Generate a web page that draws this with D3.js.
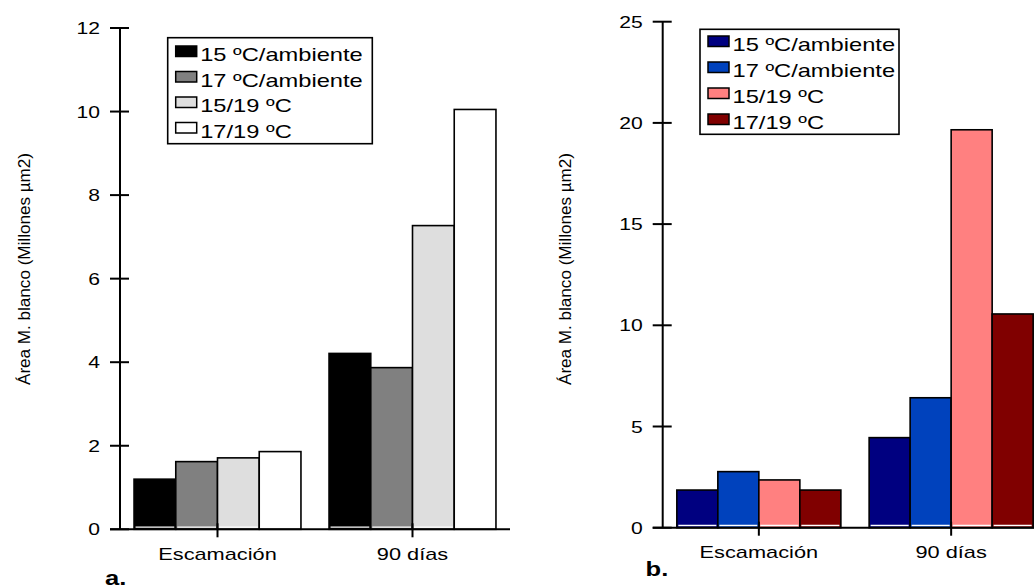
<!DOCTYPE html>
<html>
<head>
<meta charset="utf-8">
<script src="https://cdn.jsdelivr.net/npm/d3@7"></script>
<style>
  html, body { margin: 0; padding: 0; background: #fff; }
  svg { display: block; font-family: "Liberation Sans", Arial, sans-serif; }
</style>
</head>
<body>
<svg id="chart" width="1034" height="588"></svg>
<script>
// Categories and series
const categories = ["Escamación", "90 días"];
const seriesLabels = ["15 ºC/ambiente", "17 ºC/ambiente", "15/19 ºC", "17/19 ºC"];

// Panel a: area of white matter (millions µm2)
const aVal15Amb = [1.20, 4.21];
const aVal17Amb = [1.62, 3.87];
const aVal1519  = [1.71, 7.27];
const aVal1719  = [1.86, 10.05];
const aTicks = [0, 2, 4, 6, 8, 10, 12];
const aColors = ["#000000", "#808080", "#dedede", "#ffffff"];

// Panel b
const bVal15Amb = [1.86, 4.45];
const bVal17Amb = [2.77, 6.42];
const bVal1519  = [2.36, 19.66];
const bVal1719  = [1.86, 10.56];
const bTicks = [0, 5, 10, 15, 20, 25];
const bColors = ["#000080", "#0042bd", "#ff8080", "#800000"];

const yTitle = "Área M. blanco (Millones µm2)";
const SX = 1.28; // horizontal widening of the text

const svg = d3.select("#chart");

function stretchedText(g, x, y, txt, size, anchor, weight) {
  return g.append("text")
    .attr("transform", `translate(${x},${y}) scale(${SX},1)`)
    .attr("text-anchor", anchor || "start")
    .attr("font-size", size)
    .attr("font-weight", weight || "normal")
    .attr("fill", "#000")
    .text(txt);
}

function drawPanel(opt) {
  const g = svg.append("g");
  const series = opt.series;
  const y = d3.scaleLinear().domain([0, opt.yMax]).range([opt.y0, opt.yTop]);
  const x = d3.scaleBand().domain(categories)
    .range([opt.axisX, opt.axisX + 2 * opt.step])
    .paddingInner(opt.pad).paddingOuter(opt.pad / 2);
  const sub = d3.scaleBand().domain(d3.range(series.length))
    .range([0, x.bandwidth()]);

  // bars
  series.forEach((vals, si) => {
    g.selectAll(null).data(vals).enter().append("rect")
      .attr("x", (d, ci) => x(categories[ci]) + sub(si))
      .attr("y", d => y(d))
      .attr("width", sub.bandwidth())
      .attr("height", d => y(0) - y(d))
      .attr("fill", opt.colors[si])
      .attr("stroke", "#000")
      .attr("stroke-width", 1.6);
    // thin light strip along the base of each bar
    g.selectAll(null).data(vals).enter().append("line")
      .attr("x1", (d, ci) => x(categories[ci]) + sub(si) + 1.5)
      .attr("x2", (d, ci) => x(categories[ci]) + sub(si) + sub.bandwidth() - 1.5)
      .attr("y1", y(0) - 2.2).attr("y2", y(0) - 2.2)
      .attr("stroke", "#fff").attr("stroke-width", 1.4);
  });

  // y axis
  g.append("line")
    .attr("x1", opt.axisX).attr("x2", opt.axisX)
    .attr("y1", y(opt.yMax)).attr("y2", y(0))
    .attr("stroke", "#000").attr("stroke-width", 2);
  g.selectAll(null).data(opt.ticks).enter().append("line")
    .attr("x1", opt.axisX - 10).attr("x2", opt.axisX + 9)
    .attr("y1", d => y(d)).attr("y2", d => y(d))
    .attr("stroke", "#000").attr("stroke-width", 2);
  opt.ticks.forEach(t => {
    stretchedText(g, opt.axisX - 20, y(t) + 6, String(t), 16.5, "end");
  });

  // x axis
  g.append("line")
    .attr("x1", opt.axisX - 10).attr("x2", opt.xEnd)
    .attr("y1", y(0)).attr("y2", y(0))
    .attr("stroke", "#000").attr("stroke-width", 2);
  categories.forEach(c => {
    const cx = x(c) + x.bandwidth() / 2;
    g.append("line")
      .attr("x1", cx).attr("x2", cx)
      .attr("y1", y(0) - 6).attr("y2", y(0) + 8)
      .attr("stroke", "#000").attr("stroke-width", 2);
    stretchedText(g, cx, opt.xLabelY, c, 17, "middle");
  });

  // y title
  g.append("text")
    .attr("transform", `translate(${opt.titleX},${opt.titleY}) rotate(-90)`)
    .attr("text-anchor", "middle")
    .attr("font-size", 17)
    .attr("textLength", 232)
    .attr("lengthAdjust", "spacingAndGlyphs")
    .text(yTitle);

  // legend
  const lg = g.append("g");
  lg.append("rect")
    .attr("x", opt.legX).attr("y", opt.legY)
    .attr("width", opt.legW).attr("height", opt.legH)
    .attr("fill", "#fff").attr("stroke", "#000").attr("stroke-width", 1.6);
  seriesLabels.forEach((lab, i) => {
    const base = opt.legY + opt.legFirst + i * opt.legStep;
    lg.append("rect")
      .attr("x", opt.legX + 8).attr("y", base - 15)
      .attr("width", 21).attr("height", 10.5)
      .attr("fill", opt.colors[i]).attr("stroke", "#000").attr("stroke-width", 1.5);
    stretchedText(lg, opt.legX + 32.5, base, lab, 18.5, "start");
  });

  // panel letter
  stretchedText(g, opt.letterX, opt.letterY, opt.letter, 20, "start", "bold");
}

drawPanel({
  series: [aVal15Amb, aVal17Amb, aVal1519, aVal1719],
  colors: aColors, ticks: aTicks, yMax: 12,
  y0: 529.3, yTop: 28, axisX: 120, step: 195, pad: 0.144, xEnd: 510,
  xLabelY: 560, titleX: 30, titleY: 269,
  legX: 167.7, legY: 37.7, legW: 204.6, legH: 106, legFirst: 23.3, legStep: 25.5,
  letter: "a.", letterX: 105, letterY: 585
});

drawPanel({
  series: [bVal15Amb, bVal17Amb, bVal1519, bVal1719],
  colors: bColors, ticks: bTicks, yMax: 25,
  y0: 527.7, yTop: 21.7, axisX: 662.7, step: 192.3, pad: 0.147, xEnd: 1034,
  xLabelY: 558, titleX: 570.5, titleY: 269,
  legX: 700, legY: 29.3, legW: 199, legH: 105, legFirst: 21.7, legStep: 26,
  letter: "b.", letterX: 645.5, letterY: 576
});
</script>
</body>
</html>
